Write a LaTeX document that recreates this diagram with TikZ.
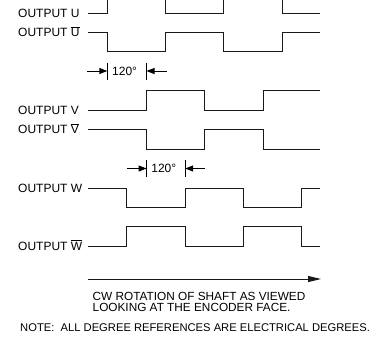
\documentclass[tikz,border=0pt]{standalone}
\usepackage{fontspec}
\setmainfont{Liberation Sans}
\usetikzlibrary{arrows.meta}
\newcommand{\ob}[1]{$\overline{\hbox{#1}}$}

\begin{document}
\begin{tikzpicture}[x=1pt,y=-1pt,
	sig/.style={line width=1pt, draw=black!90},
	lbl/.style={font=\fontsize{12}{13}\selectfont, inner sep=0pt, anchor=base west},
	txt/.style={lbl, font=\fontsize{11.8}{13}\selectfont},
	notetxt/.style={lbl, font=\fontsize{11.2}{12}\selectfont},
	dimarrow/.style={line width=1pt, -{Triangle[length=8pt,width=6pt]}},
	tickline/.style={line width=1pt},
	rotarrow/.style={line width=1pt, draw=black!90, -{Triangle[length=13pt,width=6pt]}}]
\useasboundingbox (0,0) rectangle (382,338);
\clip (0,0) rectangle (382,338);

\node[lbl] (lu) at (18,17.5) {OUTPUT U};
\node[lbl] (lubar) at (18,36.9) {OUTPUT \ob{U}};
\node[lbl] (lv) at (18,114.2) {OUTPUT V};
\node[lbl] (lvbar) at (18,133.5) {OUTPUT \ob{V}};
\node[lbl] (lw) at (18,192.2) {OUTPUT W};
\node[lbl] (lwbar) at (18,250.2) {OUTPUT \ob{W}};

\draw[sig] (88,13.3) -| (107.3,-5.7) -| (165.6,13.3) -| (223.9,-5.7) -| (282.2,13.3) -- (320,13.3);
\draw[sig] (88,32.7) -| (107.3,51.7) -| (165.6,32.7) -| (223.9,51.7) -| (282.2,32.7) -- (320,32.7);
\draw[sig] (88,110) -| (146.5,90.7) -| (204.8,110) -| (263.1,90.7) -- (320,90.7);
\draw[sig] (88,129.3) -| (146.5,149) -| (204.8,129.3) -| (263.1,149) -- (320,149);
\draw[sig] (88,188) -| (126.9,207.3) -| (185.2,188) -| (243.5,207.3) -| (301.8,188) -- (320,188);
\draw[sig] (88,246) -| (126.9,226.7) -| (185.2,246) -| (243.5,226.7) -| (301.8,246) -- (320,246);

\coordinate (a1) at (107.3,71);
\coordinate (b1) at (146.5,71);
\draw[tickline] ([yshift=8.5pt]a1) -- ([yshift=-8.5pt]a1);
\draw[tickline] ([yshift=8.5pt]b1) -- ([yshift=-8.5pt]b1);
\draw[dimarrow] ([xshift=-20pt]a1) -- (a1);
\draw[dimarrow] ([xshift=20pt]b1) -- (b1);
\node[lbl] (deg1) at (112,75.4) {120\textdegree};

\coordinate (a2) at (146.5,168.5);
\coordinate (b2) at (185.2,168.5);
\draw[tickline] ([yshift=8.5pt]a2) -- ([yshift=-8.5pt]a2);
\draw[tickline] ([yshift=8.5pt]b2) -- ([yshift=-8.5pt]b2);
\draw[dimarrow] ([xshift=-20pt]a2) -- (a2);
\draw[dimarrow] ([xshift=20pt]b2) -- (b2);
\node[lbl] (deg2) at (151.2,172.9) {120\textdegree};

\coordinate (rs) at (88,279);
\coordinate (re) at (321,279);
\draw[rotarrow] (rs) -- (re);
\node[txt] (cw1) at (92.5,300) {CW ROTATION OF SHAFT AS VIEWED};
\node[txt] (cw2) at (92.5,311.7) {LOOKING AT THE ENCODER FACE.};
\node[notetxt] (note) at (20,331.7) {NOTE:\ \ ALL DEGREE REFERENCES ARE ELECTRICAL DEGREES.};
\end{tikzpicture}
\end{document}
